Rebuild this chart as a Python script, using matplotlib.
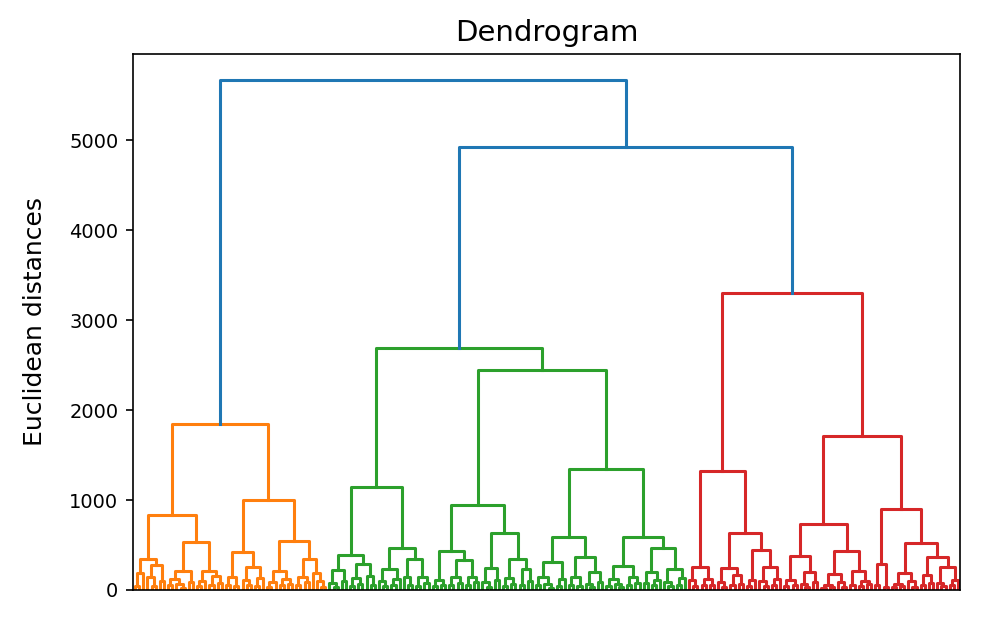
import matplotlib.pyplot as plt

# merge tree: (height, left, right), 0 = one sample
# small clusters at the bottom
a1 = (350, (189, (40, 0, 0), 0), (278, (140, 0, (45, 0, 0)), (100, 0, 0)))
a2 = (533, (211, (120, (50, 0, 0), (70, 0, (25, 0, 0))), (90, 0, 0)),
           (211, (100, (40, 0, 0), 0), (160, (55, 0, 0), (80, 0, 0))))
b1 = (422, (144, (60, 0, 0), (45, 0, 0)),
           (255, (110, 0, (50, 0, 0)), (130, (40, 0, 0), 0)))
b2 = (544, (211, (90, (35, 0, 0), 0), (120, (50, 0, 0), (70, 0, 0))),
           (344, (150, (60, 0, 0), (85, 0, 0)), (190, 0, (100, 0, (30, 0, 0)))))
c1 = (389, (222, (80, 0, (30, 0, 0)), (100, 0, 0)),
           (289, (130, (45, 0, 0), (70, 0, 0)), (160, 0, (60, 0, 0))))
c2 = (467, (233, (95, 0, (40, 0, 0)), (120, (50, 0, 0), 0)),
           (344, (140, 0, (55, 0, 0)), (150, (45, 0, 0), (80, 0, 0))))
d1a = (433, (111, (40, 0, 0), (55, 0, 0)),
            (333, (144, (60, 0, 0), (75, 0, 0)), (150, (50, 0, 0), (90, 0, 0))))
d1b = (633, (244, (90, 0, (35, 0, 0)), (110, 0, 0)),
            (344, (130, (45, 0, 0), (70, 0, 0)), (233, (60, 0, 0), (95, 0, 0))))
d2a = (589, (311, (140, (50, 0, 0), (65, 0, (25, 0, 0))), (120, (45, 0, 0), 0)),
            (367, (150, (60, 0, 0), (40, 0, 0)), (200, (70, 0, (30, 0, 0)), (85, 0, 0))))
d2b = (589, (267, (120, (45, 0, 0), (70, 0, (30, 0, 0))), (140, (55, 0, 0), (80, 0, 0))),
            (467, (200, (75, 0, 0), (110, (50, 0, 0), 0)),
                  (233, (90, 0, (40, 0, 0)), (130, (55, 0, 0), 0))))
e1 = (255, (110, 0, (45, 0, 0)), (125, (50, 0, 0), (60, 0, 0)))
e2 = (633, (244, (85, 0, (30, 0, 0)), (167, (55, 0, 0), (70, 0, 0))),
           (444, (111, (40, 0, 0), 0), (255, (100, 0, (45, 0, 0)), (120, (50, 0, 0), 0))))
f1 = (733, (378, (111, (40, 0, 0), (55, 0, 0)), (200, (70, 0, (30, 0, 0)), (90, 0, 0))),
           (433, (180, (60, (25, 0, 0), (30, 0, 0)), (85, 0, (35, 0, 0))),
                 (210, (50, 0, 0), (100, (45, 0, 0), (65, 0, 0)))))
f2 = (900, (289, (60, 0, 0), (30, 0, 0)),
           (522, (189, (70, (30, 0, 0), (40, 0, 0)), (95, 0, (35, 0, 0))),
                 (367, (167, (55, 0, 0), (75, 0, 0)),
                       (255, (80, 0, (40, 0, 0)), (110, (50, 0, 0), 0)))))

# the three coloured clusters
orange = (1844, (833, a1, a2), (1000, b1, b2))
green = (2689, (1150, c1, c2), (2444, (944, d1a, d1b), (1344, d2a, d2b)))
red = (3300, (1322, e1, e2), (1711, f1, f2))

# the two blue merges on top
top_heights = [4922, 5678]

fig = plt.figure(figsize=(9.82, 6.3), dpi=100)
ax = fig.add_axes([0.1354, 0.0635, 0.8422, 0.8508])

count = [0]


def draw(node, color):
    if node == 0:
        x = 10 * count[0] + 5
        count[0] += 1
        return x, 0
    h, left, right = node
    xl, hl = draw(left, color)
    xr, hr = draw(right, color)
    ax.plot([xl, xl, xr, xr], [hl, h, h, hr], color=color, lw=2.2)
    return (xl + xr) / 2, h


xo, ho = draw(orange, "C1")
xg, hg = draw(green, "C2")
xd, hd = draw(red, "C3")

ax.plot([xg, xg, xd, xd], [hg, top_heights[0], top_heights[0], hd], color="C0", lw=2.2)
xm = (xg + xd) / 2
ax.plot([xo, xo, xm, xm], [ho, top_heights[1], top_heights[1], top_heights[0]], color="C0", lw=2.2)

ax.set_xlim(0, 10 * count[0])
ax.set_ylim(0, top_heights[1] * 1.05)
ax.set_xticks([])
ax.tick_params(axis="y", labelsize=14, length=5.25, width=1.2, pad=5.25)
for s in ax.spines.values():
    s.set_linewidth(1.2)
ax.set_title("Dendrogram", fontsize=21, pad=9)
ax.set_ylabel("Euclidean distances", fontsize=18, labelpad=16)

fig.savefig("out.png", dpi=100)
